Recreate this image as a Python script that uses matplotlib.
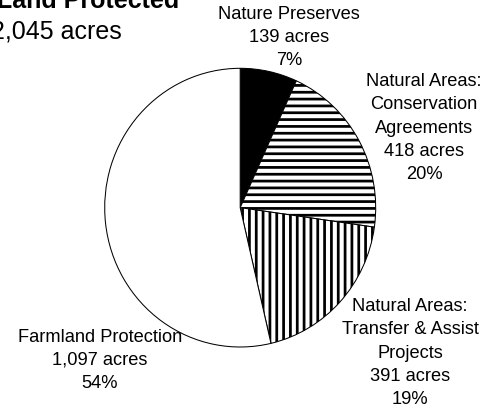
import matplotlib
matplotlib.use('Agg')
import matplotlib.pyplot as plt

# data
categories = ['Nature Preserves', 'Natural Areas:\nConservation\nAgreements',
              'Natural Areas:\nTransfer & Assist\nProjects', 'Farmland Protection']
acres = [139, 418, 391, 1097]
percents = ['7%', '20%', '19%', '54%']
total_label = '2,045 acres'

DPI = 82
W, H = 499, 408
plt.rcParams['font.family'] = ['Liberation Sans', 'DejaVu Sans']
plt.rcParams['hatch.linewidth'] = 2.4

fig = plt.figure(figsize=(W / DPI, H / DPI), dpi=DPI)

# pie box in pixels (left, top, right, bottom)
px_l, px_t, px_r, px_b = 104.7, 68.3, 375.7, 347.0
ax = fig.add_axes([px_l / W, 1 - px_b / H, (px_r - px_l) / W, (px_b - px_t) / H])

wedges, _ = ax.pie(acres, startangle=90, counterclock=False,
                   colors=['black', 'white', 'white', 'white'],
                   wedgeprops=dict(edgecolor='black', linewidth=0.9))
for w, h in zip(wedges, ['', '--', '||', '']):
    w.set_hatch(h)
ax.set_aspect('auto')
ax.set_xlim(-1, 1)
ax.set_ylim(-1, 1)
ax.axis('off')

def px(x, y):
    return x / W, 1 - y / H

fs = 16
# (center x, baseline of last line) in pixels
label_pos = [(289, 65), (424, 179), (410, 404), (100, 388)]
for name, a, p, (x, y) in zip(categories, acres, percents, label_pos):
    fig.text(*px(x, y), f"{name}\n{a:,} acres\n{p}", ha='center', va='baseline',
             fontsize=fs, linespacing=1.48)

fig.text(*px(-3, 8), 'Land Protected', ha='left', va='baseline',
         fontsize=22, fontweight='bold')
fig.text(*px(-9, 39), total_label, ha='left', va='baseline', fontsize=22)

plt.savefig('out.png', dpi=DPI)
